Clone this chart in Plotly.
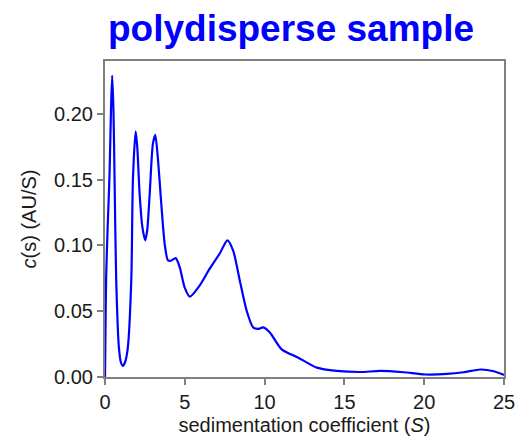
import plotly.graph_objects as go

# c(s) distribution of a polydisperse sample
s_values = [0.0, 0.03, 0.07, 0.17, 0.28, 0.38, 0.45, 0.53, 0.6, 0.7, 0.87, 1.0, 1.12,
            1.25, 1.43, 1.65, 1.75, 1.92, 2.02, 2.17, 2.34, 2.52, 2.65, 2.8, 3.0, 3.15,
            3.32, 3.53, 3.74, 3.95, 4.16, 4.43, 4.68, 4.99, 5.31, 5.94, 6.56, 7.19,
            7.67, 8.03, 8.45, 8.87, 9.28, 9.6, 9.91, 10.33, 11.07, 12.11, 13.27,
            14.52, 16.0, 17.24, 18.7, 20.07, 21.43, 22.47, 23.52, 24.36, 25.0]
c_values = [0.0, 0.035, 0.075, 0.115, 0.152, 0.205, 0.229, 0.2025, 0.15, 0.075,
            0.0224, 0.011, 0.0084, 0.011, 0.0224, 0.075, 0.15, 0.1865, 0.175, 0.139,
            0.114, 0.1038, 0.112, 0.139, 0.177, 0.184, 0.165, 0.131, 0.101, 0.0885,
            0.0885, 0.0903, 0.0835, 0.068, 0.061, 0.0696, 0.0823, 0.0938, 0.1038,
            0.096, 0.073, 0.0506, 0.0377, 0.0365, 0.0377, 0.0338, 0.021, 0.0147,
            0.0071, 0.0046, 0.0038, 0.0046, 0.0036, 0.0019, 0.0023, 0.0036, 0.0057,
            0.0044, 0.0015]

x_ticks = [0, 5, 10, 15, 20, 25]
y_ticks = [0.0, 0.05, 0.10, 0.15, 0.20]

font_family = "Liberation Sans, Arial, sans-serif"
axis_grey = "#808080"

fig = go.Figure(
    go.Scatter(
        x=s_values,
        y=c_values,
        mode="lines",
        line=dict(color="#0000ff", width=2.2, shape="spline", smoothing=0.7),
        hoverinfo="x+y",
    )
)

fig.update_layout(
    width=519,
    height=437,
    margin=dict(l=105, r=15, t=61, b=60, autoexpand=False),
    paper_bgcolor="white",
    plot_bgcolor="white",
    showlegend=False,
    font=dict(family=font_family, color="#1a1a1a", size=20),
    title=dict(
        text="<b>polydisperse sample</b>",
        font=dict(family=font_family, size=37, color="#0000ff"),
        x=291 / 519,
        xref="container",
        xanchor="center",
        y=1 - 28 / 437,
        yref="container",
        yanchor="middle",
    ),
)

fig.update_xaxes(
    range=[0, 25],
    tickvals=x_ticks,
    ticktext=[str(v) for v in x_ticks],
    ticks="outside",
    ticklen=6,
    tickwidth=1.5,
    tickcolor=axis_grey,
    showline=True,
    linecolor=axis_grey,
    linewidth=2,
    mirror=True,
    showgrid=False,
    zeroline=False,
    automargin=False,
    title=dict(text="sedimentation coefficient (<i>S</i>)", standoff=6,
               font=dict(size=20)),
    tickfont=dict(size=20),
)

fig.update_yaxes(
    range=[0, 0.24],
    tickvals=y_ticks,
    ticktext=[f"{v:.2f}" for v in y_ticks],
    ticks="outside",
    ticklen=6,
    tickwidth=1.5,
    tickcolor=axis_grey,
    showline=True,
    linecolor=axis_grey,
    linewidth=2,
    mirror=True,
    showgrid=False,
    zeroline=False,
    automargin=False,
    title=dict(text="<i>c</i>(s) (AU/S)", standoff=12, font=dict(size=20)),
    tickfont=dict(size=20),
)

fig.write_html("out.html")
